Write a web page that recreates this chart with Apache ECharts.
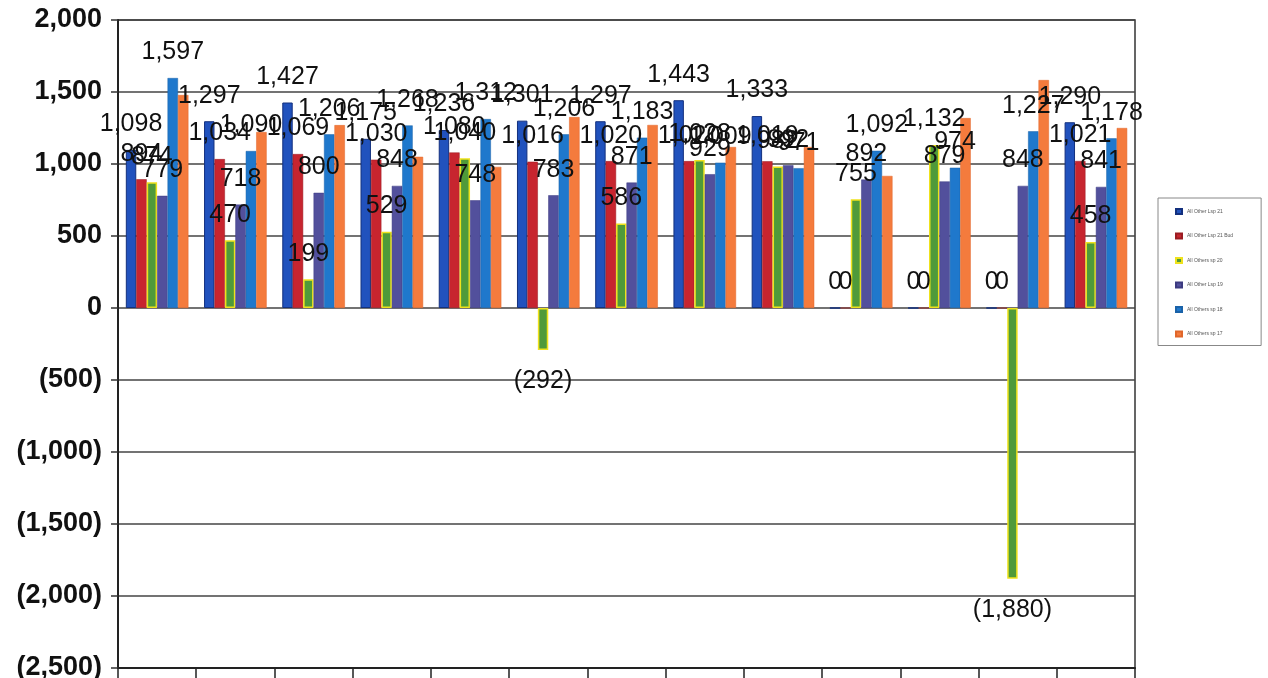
<!DOCTYPE html>
<html>
<head>
<meta charset="utf-8">
<script src="https://cdn.jsdelivr.net/npm/echarts@6/dist/echarts.min.js"></script>
<style>
html,body{margin:0;padding:0;background:#fff;}
#chart{width:1268px;height:678px;}
</style>
</head>
<body>
<div id="chart"></div>
<script>
// ---- data ----
const categories = ['Jan','Feb','Mar','Apr','May','Jun','Jul','Aug','Sep','Oct','Nov','Dec','Avg'];
const seriesNames = ['All Other Lsp 21','All Other Lsp 21 Bud','All Others sp 20','All Other Lsp 19','All Others sp 18','All Others sp 17'];
const lsp21    = [1098, 1297, 1427, 1175, 1236, 1301, 1297, 1443, 1333, 0, 0, 0, 1290];
const lsp21Bud = [894, 1034, 1069, 1030, 1080, 1016, 1020, 1020, 1019, 0, 0, 0, 1021];
const sp20     = [874, 470, 199, 529, 1040, -292, 586, 1028, 982, 755, 1132, -1880, 458];
const lsp19    = [779, 718, 800, 848, 748, 783, 871, 929, 992, 892, 879, 848, 841];
const sp18     = [1597, 1090, 1206, 1268, 1312, 1206, 1183, 1009, 971, 1092, 974, 1227, 1178];
const sp17     = [1479, 1222, 1270, 1050, 980, 1326, 1271, 1118, 1118, 917, 1319, 1583, 1250];
const yTicks   = {min: -2500, max: 2000, interval: 500};

// ---- styles ----
const colors  = ['#2152bd', '#c7252f', '#4f9a3a', '#52509c', '#1f78cc', '#f47b3d'];
const borders = ['#13307e', '#9a1c22', '#efe21c', '#3c3a80', '#1a62a8', '#e0662a'];
const borderW = [1, 0.5, 1.5, 0.5, 0.5, 0.5];
const allValues = [lsp21, lsp21Bud, sp20, lsp19, sp18, sp17];
const labelled = [true, true, true, true, true, false];

function fmt(v) {
  const s = Math.abs(v).toLocaleString('en-US');
  return v < 0 ? '(' + s + ')' : s;
}

const series = allValues.map((vals, i) => ({
  name: seriesNames[i],
  type: 'bar',
  barGap: '0%',
  barCategoryGap: '20%',
  itemStyle: {color: colors[i], borderColor: borders[i], borderWidth: borderW[i]},
  data: vals.map(v => ({
    value: v,
    label: {position: v < 0 ? 'bottom' : 'top', distance: v < 0 ? 21 : 15}
  })),
  label: {
    show: labelled[i],
    fontFamily: 'Liberation Sans',
    fontSize: 25,
    color: '#111',
    padding: 0,
    lineHeight: 21,
    formatter: p => fmt(p.value)
  }
}));

const chart = echarts.init(document.getElementById('chart'), null, {renderer: 'canvas'});
chart.setOption({
  animation: false,
  backgroundColor: '#fff',
  grid: {left: 118, right: 133, top: 20, bottom: 10, show: true, borderColor: '#333', borderWidth: 1.5, outerBoundsMode: 'none', containLabel: false},
  legend: {
    orient: 'vertical',
    left: 1158,
    top: 198,
    itemWidth: 6,
    itemHeight: 5,
    itemGap: 17.5,
    icon: 'rect',
    borderColor: '#888',
    borderWidth: 1,
    padding: [10, 28, 8, 17],
    textStyle: {fontSize: 5, color: '#555', fontFamily: 'Liberation Sans'},
    data: seriesNames
  },
  xAxis: {
    type: 'category',
    data: categories,
    position: 'bottom',
    axisLine: {show: true, lineStyle: {color: '#222', width: 2}, onZero: false},
    axisTick: {show: true, length: 14, interval: 0, lineStyle: {color: '#222', width: 1.5}},
    axisLabel: {margin: 16, fontSize: 22, color: '#000', fontFamily: 'Liberation Sans'},
    splitLine: {show: false}
  },
  yAxis: {
    type: 'value',
    min: yTicks.min,
    max: yTicks.max,
    interval: yTicks.interval,
    axisLine: {show: true, lineStyle: {color: '#222', width: 2}},
    axisTick: {show: true, length: 7, lineStyle: {color: '#333', width: 1.5}},
    axisLabel: {margin: 16, fontSize: 27, fontWeight: 'bold', color: '#111', fontFamily: 'Liberation Sans', formatter: v => fmt(v)},
    splitLine: {show: true, lineStyle: {color: '#444', width: 1.5}}
  },
  series: series
});
</script>
</body>
</html>
